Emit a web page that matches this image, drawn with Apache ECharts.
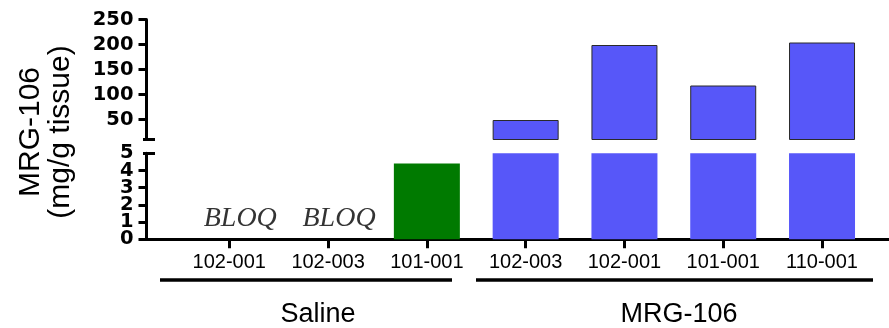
<!DOCTYPE html>
<html>
<head>
<meta charset="utf-8">
<script src="https://cdn.jsdelivr.net/npm/echarts@6/dist/echarts.min.js"></script>
<style>
  html, body { margin: 0; padding: 0; background: #fff; }
  #chart { width: 889px; height: 328px; }
</style>
</head>
<body>
<div id="chart"></div>
<script>
// ---- data ----
const categories = ['102-001', '102-003', '101-001', '102-003', '102-001', '101-001', '110-001'];
const groups = ['Saline', 'Saline', 'Saline', 'MRG-106', 'MRG-106', 'MRG-106', 'MRG-106'];
const values = [null, null, 4.4, 49, 199, 118, 204];
const bloqLabels = ['BLOQ', 'BLOQ', null, null, null, null, null];
const upperTicks = [50, 100, 150, 200, 250];
const lowerTicks = [0, 1, 2, 3, 4, 5];
const groupNames = ['Saline', 'MRG-106'];
const yTitle = ['MRG-106', '(mg/g tissue)'];

// ---- styling / layout ----
const groupColors = { 'Saline': '#007a00', 'MRG-106': '#5757f9' };
const upperMin = 10, upperMax = 250, lowerMin = 0, lowerMax = 5;
const xMin = -0.838, xMax = 6.678;
const barW = 66;
const tickFont = { fontFamily: 'DejaVu Sans', fontWeight: 'bold', fontSize: 19.5, color: '#000' };

const lowerData = [], upperData = [], bloqData = [];
values.forEach((v, i) => {
  const color = groupColors[groups[i]];
  if (v != null) {
    lowerData.push({ value: [i, v], itemStyle: { color } });
    if (v > upperMin) upperData.push({ value: [i, v], itemStyle: { color } });
  }
  if (bloqLabels[i]) bloqData.push({ value: [i, 0], name: bloqLabels[i] });
});

function yAx(grid, min, max, extra) {
  return Object.assign({
    type: 'value', gridIndex: grid, min, max, position: 'left', offset: 0,
    splitLine: { show: false },
    axisLine: { show: false, onZero: false },
    axisTick: { show: false },
    axisLabel: { show: false }
  }, extra);
}
const lineBlack = { color: '#000', width: 3 };
function labelsAt(vals) {
  return Object.assign({ show: true, customValues: vals, margin: 13, showMinLabel: true, showMaxLabel: true }, tickFont);
}

const lowerEven = lowerTicks.filter((v, i) => i % 2 === 0);
const lowerOdd = lowerTicks.filter((v, i) => i % 2 === 1);

const option = {
  animation: false,
  backgroundColor: '#fff',
  grid: [
    { left: 146.5, width: 742.5, top: 19.5, height: 120, outerBoundsMode: 'none', containLabel: false },
    { left: 146.5, width: 742.5, top: 153.3, height: 86, outerBoundsMode: 'none', containLabel: false }
  ],
  xAxis: [
    {
      type: 'value', gridIndex: 0, min: xMin, max: xMax, position: 'bottom',
      splitLine: { show: false }, axisLine: { show: false, onZero: false },
      axisTick: { show: false }, axisLabel: { show: false }
    },
    {
      type: 'value', gridIndex: 1, min: xMin, max: xMax, position: 'bottom',
      splitLine: { show: false },
      axisLine: { show: true, onZero: false, lineStyle: lineBlack },
      axisTick: { show: true, customValues: categories.map((c, i) => i), length: 9, lineStyle: lineBlack },
      axisLabel: {
        show: true, customValues: categories.map((c, i) => i), margin: 13,
        formatter: v => categories[Math.round(v)],
        fontFamily: 'Liberation Sans', fontSize: 20, color: '#000'
      }
    }
  ],
  yAxis: [
    // upper segment
    yAx(0, upperMin, upperMax, {
      axisLine: { show: true, onZero: false, lineStyle: lineBlack },
      axisTick: { show: true, customValues: upperTicks, length: 8, lineStyle: lineBlack },
      axisLabel: labelsAt(upperTicks)
    }),
    yAx(0, upperMin, upperMax, {
      axisTick: { show: true, inside: true, customValues: [upperMin], length: 8.5, lineStyle: lineBlack }
    }),
    yAx(0, upperMin, upperMax, {
      axisTick: { show: true, customValues: [upperMin], length: 3.5, lineStyle: lineBlack }
    }),
    // lower segment (index 3: line + even labels)
    yAx(1, lowerMin, lowerMax, {
      axisLine: { show: true, onZero: false, lineStyle: lineBlack },
      axisLabel: labelsAt(lowerEven)
    }),
    yAx(1, lowerMin, lowerMax, { axisLabel: labelsAt(lowerOdd) }),
    yAx(1, lowerMin, lowerMax, {
      axisTick: { show: true, customValues: lowerTicks.slice(0, -1), length: 8, lineStyle: lineBlack }
    }),
    yAx(1, lowerMin, lowerMax, {
      axisTick: { show: true, inside: true, customValues: [lowerMax], length: 8.5, lineStyle: lineBlack }
    }),
    yAx(1, lowerMin, lowerMax, {
      axisTick: { show: true, customValues: [lowerMax], length: 3.5, lineStyle: lineBlack }
    })
  ],
  series: [
    {
      type: 'bar', xAxisIndex: 0, yAxisIndex: 0, barWidth: barW, clip: true,
      itemStyle: { borderColor: '#2a2a2a', borderWidth: 1 },
      data: upperData
    },
    {
      type: 'bar', xAxisIndex: 1, yAxisIndex: 3, barWidth: barW, clip: true,
      data: lowerData
    },
    {
      type: 'scatter', xAxisIndex: 1, yAxisIndex: 3, symbolSize: 0, clip: false,
      data: bloqData,
      label: {
        show: true, position: 'top', distance: 7, offset: [11, 0],
        formatter: p => p.name,
        fontFamily: 'Liberation Serif', fontStyle: 'italic', fontSize: 28, color: '#000'
      }
    }
  ],
  graphic: [
    {
      type: 'text', x: 46, y: 132, rotation: Math.PI / 2,
      style: {
        text: yTitle.join('\n'), fontFamily: 'Liberation Sans', fontSize: 30, lineHeight: 30,
        fill: '#000', align: 'center', verticalAlign: 'middle'
      }
    },
    { type: 'line', shape: { x1: 160, y1: 280, x2: 452, y2: 280 }, style: { stroke: '#000', lineWidth: 3.5 } },
    { type: 'line', shape: { x1: 476, y1: 280, x2: 873, y2: 280 }, style: { stroke: '#000', lineWidth: 3.5 } },
    {
      type: 'text', x: 318, y: 315,
      style: { text: groupNames[0], fontFamily: 'Liberation Sans', fontSize: 27, fill: '#000', align: 'center', verticalAlign: 'middle' }
    },
    {
      type: 'text', x: 679, y: 315,
      style: { text: groupNames[1], fontFamily: 'Liberation Sans', fontSize: 27, fill: '#000', align: 'center', verticalAlign: 'middle' }
    }
  ]
};

const chart = echarts.init(document.getElementById('chart'), null, { renderer: 'canvas' });
chart.setOption(option);
</script>
</body>
</html>
